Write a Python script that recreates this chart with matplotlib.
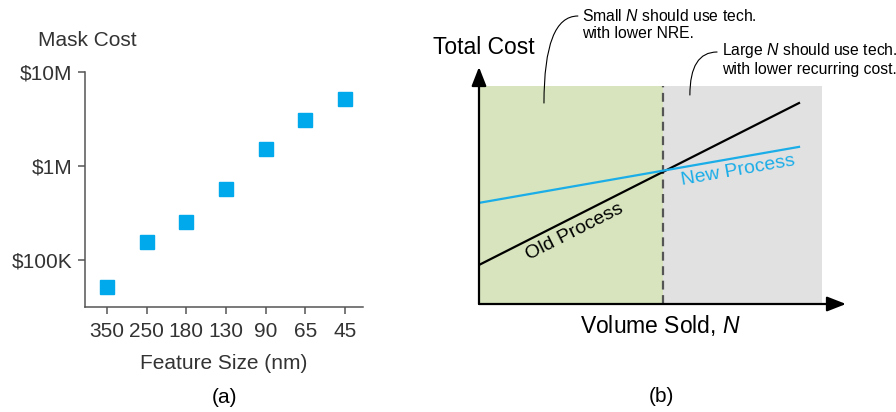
import numpy as np
import matplotlib
matplotlib.use("Agg")
import matplotlib.pyplot as plt
from matplotlib.patches import Rectangle

plt.rcParams['font.family'] = ['Liberation Sans', 'DejaVu Sans']
plt.rcParams['mathtext.fontset'] = 'custom'
plt.rcParams['mathtext.it'] = 'Liberation Sans:italic'
plt.rcParams['mathtext.rm'] = 'Liberation Sans'

# (a) mask cost vs feature size
feature_sizes = ['350', '250', '180', '130', '90', '65', '45']
mask_cost = [52e3, 155e3, 255e3, 570e3, 1.5e6, 3.1e6, 5.2e6]
cost_ticks = [1e5, 1e6, 1e7]
cost_labels = ['$100K', '$1M', '$10M']

# (b) total cost vs volume (conceptual)
volume = [0, 10]
old_cost = [1.22, 6.28]
new_cost = [3.16, 4.91]
crossover = 5.75
region_end = 10.72

fig = plt.figure(figsize=(8.96, 4.12), dpi=100)

txt = '#333333'
axc = '#555555'

# ---- panel (a)
ax1 = fig.add_axes([85 / 896, 105 / 412, 278 / 896, 235 / 412])
x = np.arange(len(feature_sizes))
ax1.semilogy(x, mask_cost, 's', color='#00A8EC', markersize=9.5, clip_on=False)
ax1.set_xlim(-0.55, 6.45)
ax1.set_ylim(10 ** 4.5, 1e7)
ax1.set_xticks(x)
ax1.set_xticklabels(feature_sizes)
ax1.set_yticks(cost_ticks)
ax1.set_yticklabels(cost_labels)
ax1.yaxis.set_minor_locator(matplotlib.ticker.NullLocator())
for s in ['top', 'right']:
    ax1.spines[s].set_visible(False)
for s in ['left', 'bottom']:
    ax1.spines[s].set_color(axc)
    ax1.spines[s].set_linewidth(1.1)
ax1.tick_params(length=5, width=1.1, color=axc, labelcolor=txt, labelsize=15, pad=4)
ax1.tick_params(axis='x', pad=6)
ax1.set_xlabel('Feature Size (nm)', fontsize=15, color=txt, labelpad=9)
ax1.text(-0.17, 1.135, 'Mask Cost', transform=ax1.transAxes, fontsize=15,
         color=txt, ha='left', va='center')
ax1.text(0.5, -0.383, '(a)', transform=ax1.transAxes, fontsize=15,
         ha='center', va='center')

# ---- panel (b)
ax2 = fig.add_axes([479 / 896, 108 / 412, 367 / 896, 237 / 412])
ax2.set_xlim(0, 367 / 32)
ax2.set_ylim(0, 237 / 32)
ax2.set_axis_off()

top = 218 / 32
ax2.add_patch(Rectangle((0, 0), crossover, top, facecolor='#D7E4BD', edgecolor='none', zorder=0))
ax2.add_patch(Rectangle((crossover, 0), region_end - crossover, top,
                        facecolor='#E1E1E1', edgecolor='none', zorder=0))
ax2.plot([crossover, crossover], [0, top], color='#555555', lw=1.6,
         dashes=(4, 2.5), zorder=1)

ax2.plot(volume, old_cost, color='black', lw=1.6, zorder=2)
ax2.plot(volume, new_cost, color='#1AADE8', lw=1.6, zorder=2)

# axes arrows
arrow_kw = dict(arrowstyle='-|>,head_length=1.15,head_width=0.45', color='black',
                lw=1.6, mutation_scale=10, shrinkA=0, shrinkB=0)
ax2.annotate('', xy=(ax2.get_xlim()[1], 0), xytext=(0, 0), arrowprops=arrow_kw,
             annotation_clip=False)
ax2.annotate('', xy=(0, ax2.get_ylim()[1]), xytext=(0, 0), arrowprops=arrow_kw,
             annotation_clip=False)

# line labels
ang_old = np.degrees(np.arctan2(old_cost[1] - old_cost[0], volume[1] - volume[0]))
ang_new = np.degrees(np.arctan2(new_cost[1] - new_cost[0], volume[1] - volume[0]))
ax2.text(3.0, 2.25, 'Old Process', rotation=ang_old, rotation_mode='anchor',
         ha='center', va='center', fontsize=14, color='black')
ax2.text(8.09, 4.16, 'New Process', rotation=ang_new, rotation_mode='anchor',
         ha='center', va='center', fontsize=14, color='#1AADE8')

ax2.text(-1.44, 8.0, 'Total Cost', fontsize=16.5, ha='left', va='center')
ax2.text(5.66, -0.66, 'Volume Sold, $N$', fontsize=16.5, ha='center', va='center')
ax2.text(5.69, -2.89, '(b)', fontsize=15, ha='center', va='center')

ax2.text(3.22, 8.73, 'Small $N$ should use tech.\nwith lower NRE.', fontsize=11.3,
         ha='left', va='center', linespacing=1.15)
ax2.text(7.59, 7.66, 'Large $N$ should use tech.\nwith lower recurring cost.', fontsize=11.3,
         ha='left', va='center', linespacing=1.15)

lead_kw = dict(arrowstyle='-', color='black', lw=0.8, shrinkA=0, shrinkB=0,
               connectionstyle='angle3,angleA=0,angleB=90')
ax2.annotate('', xy=(2.03, 6.28), xytext=(3.09, 9.0), arrowprops=lead_kw,
             annotation_clip=False)
ax2.annotate('', xy=(6.59, 6.53), xytext=(7.44, 7.875), arrowprops=lead_kw,
             annotation_clip=False)

fig.savefig('out.png', dpi=100)
